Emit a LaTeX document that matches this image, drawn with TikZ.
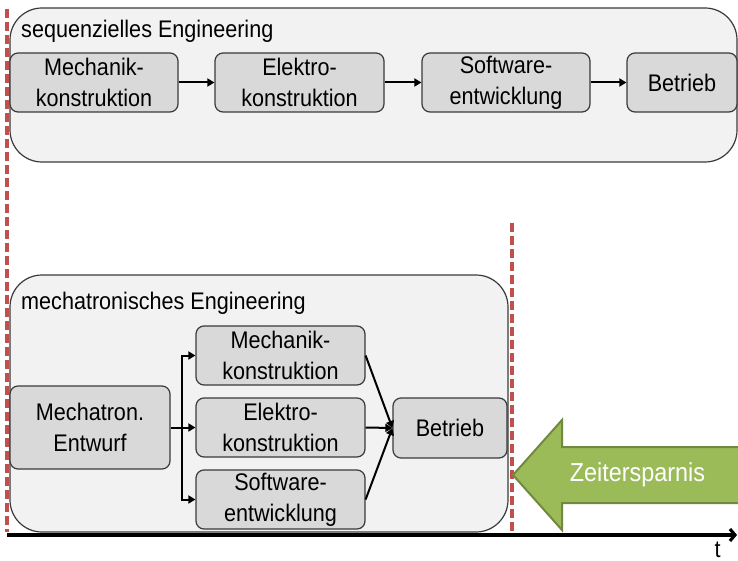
\documentclass[tikz,border=0pt]{standalone}
\usepackage{fontspec}
\setmainfont[FakeStretch=0.9]{Liberation Sans}
\usetikzlibrary{arrows.meta}
\definecolor{panelfill}{HTML}{F2F2F2}
\definecolor{boxfill}{HTML}{D9D9D9}
\definecolor{edge}{HTML}{3A3A3A}
\definecolor{marker}{HTML}{C0504D}
\definecolor{gainfill}{HTML}{9BBB59}
\definecolor{gainedge}{HTML}{71893F}

\begin{document}
\begin{tikzpicture}[x=1pt,y=-1pt,
  txt/.style={font=\fontsize{24}{31}\selectfont},
  panel/.style={draw=edge, fill=panelfill, line width=1.2pt, rounded corners=32pt, inner sep=0pt},
  stage/.style={txt, draw=edge, fill=boxfill, line width=1.2pt, rounded corners=8pt,
                align=center, inner sep=0pt, minimum height=59pt},
  flow/.style={line width=2pt, -{Triangle[length=7pt,width=8pt]}},
  limit/.style={draw=marker, line width=3.6pt, dash pattern=on 9pt off 4pt},
  timeaxis/.style={line width=3.2pt, -{Straight Barb[length=5pt,width=12pt]}}
]
\useasboundingbox (0,0) rectangle (738,561);

% --- sequential engineering ---
\node[panel, minimum width=727pt, minimum height=154pt] (seq) at (373.5,85) {};
\node[txt, anchor=base west, inner sep=0pt] (seqtitle) at (21,38) {sequenzielles Engineering};

\node[stage, minimum width=168pt] (m1) at (94,82.5)    {Mechanik-\\konstruktion};
\node[stage, minimum width=169pt] (e1) at (299.5,82.5) {Elektro-\\konstruktion};
\node[stage, minimum width=168pt] (s1) at (506,82.5)   {Software-\\entwicklung};
\node[stage, minimum width=110pt] (b1) at (682,82.5)   {Betrieb};

\draw[flow] (m1) -- (e1);
\draw[flow] (e1) -- (s1);
\draw[flow] (s1) -- (b1);

% --- mechatronic engineering ---
\node[panel, minimum width=498pt, minimum height=257pt] (mec) at (259,403.5) {};
\node[txt, anchor=base west, inner sep=0pt] (mectitle) at (21,309) {mechatronisches Engineering};

\node[stage, minimum width=160pt, minimum height=83pt] (ent) at (90,427.5) {Mechatron.\\Entwurf};
\node[stage, minimum width=169pt] (m2) at (280.5,355.5) {Mechanik-\\konstruktion};
\node[stage, minimum width=169pt] (e2) at (280.5,427.5) {Elektro-\\konstruktion};
\node[stage, minimum width=169pt] (s2) at (280.5,499.5) {Software-\\entwicklung};
\node[stage, minimum width=114pt, minimum height=60pt] (b2) at (450,428) {Betrieb};

\coordinate (fork) at (182,427.5);
\draw[line width=2pt] (ent.east) -- (fork);
\draw[flow] (fork) |- (m2.west);
\draw[flow] (fork) -- (e2.west);
\draw[flow] (fork) |- (s2.west);

\draw[flow] (m2.east) -- (b2.west);
\draw[flow] (e2.east) -- (b2.west);
\draw[flow] (s2.east) -- (b2.west);

% --- time axis ---
\coordinate (t0) at (7,535);
\coordinate (t1) at (737,535);
\draw[timeaxis] (t0) -- (t1);
\node[txt, anchor=base, inner sep=0pt] (tlabel) at (717.5,557) {t};

% --- end-of-project markers ---
\coordinate (a0) at (7,9);
\coordinate (a1) at (7,532);
\coordinate (c0) at (512,223);
\coordinate (c1) at (512,532);
\draw[limit] (a0) -- (a1);
\draw[limit] (c0) -- (c1);

% --- time saving arrow ---
\begin{scope}
  \clip (0,0) rectangle (738,561);
  \draw[fill=gainfill, draw=gainedge, line width=2pt, line join=miter]
    (513,475) -- (562,420) -- (562,447) -- (745,447) -- (745,503)
    -- (562,503) -- (562,530) -- cycle;
\end{scope}
\node[font=\fontsize{26}{30}\selectfont, text=white, inner sep=0pt] (gain) at (637.5,475) {Zeitersparnis};
\end{tikzpicture}
\end{document}
